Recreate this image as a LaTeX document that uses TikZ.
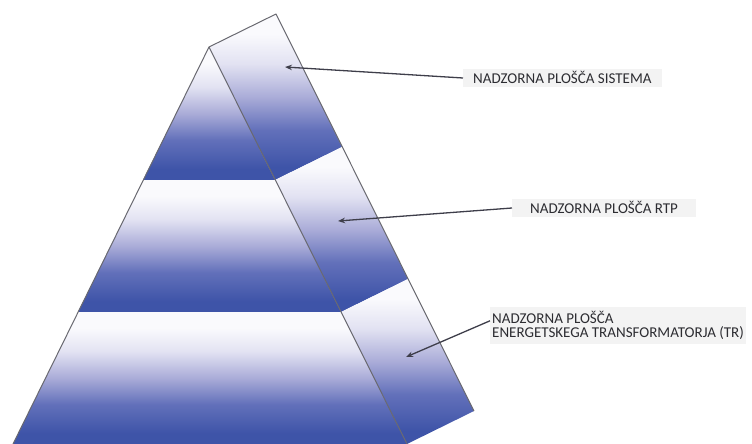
\documentclass[tikz,border=0pt]{standalone}
\usepackage{fontspec}
\setmainfont{Carlito}
\usetikzlibrary{arrows.meta,calc}
\definecolor{bandblue}{RGB}{62,84,168}
\definecolor{bandmid}{RGB}{98,112,186}
\definecolor{bandlav}{RGB}{170,172,216}
\definecolor{bandlight}{RGB}{226,226,242}
\definecolor{bandtop}{RGB}{250,250,253}
\definecolor{edgegray}{RGB}{105,105,112}
\definecolor{arrowgray}{RGB}{62,62,74}
\definecolor{txtgray}{RGB}{45,45,50}
\definecolor{shadowgray}{RGB}{243,243,243}
\pgfdeclareverticalshading{band}{100bp}{color(0bp)=(bandblue); color(29bp)=(bandblue); color(40bp)=(bandmid); color(50bp)=(bandlav); color(60bp)=(bandlight); color(69bp)=(bandtop); color(100bp)=(bandtop)}
\tikzset{
  bandfill/.style={shading=band},
  edgeline/.style={draw=edgegray, line width=1pt, line join=round},
  pointer/.style={draw=arrowgray, line width=1.3pt, -{Stealth[length=7pt,width=5.5pt]}},
  lbl/.style={anchor=west, fill=shadowgray, text=txtgray, font=\fontsize{15}{14.5}\selectfont, text height=10.5pt, text depth=0pt, inner ysep=4pt, align=left},
  lbltwo/.style={anchor=north west, fill=shadowgray, text=txtgray, font=\fontsize{15}{14.5}\selectfont, inner ysep=4pt, align=left}
}
\begin{document}
\begin{tikzpicture}[x=1pt,y=-1pt]
\useasboundingbox (0,0) rectangle (752,444);
% corners of the pyramid
\coordinate (A) at (209,47);
\coordinate (B) at (276,14);
\coordinate (F1L) at (143,180);
\coordinate (F1R) at (275,180);
\coordinate (F2L) at (78,312);
\coordinate (F2R) at (341,312);
\coordinate (F3L) at (13,444);
\coordinate (F3R) at (407,444);
\coordinate (S1) at (342,147);
\coordinate (S2) at (408,279);
\coordinate (S3) at (474,411);
% front bands
\shade[bandfill] (A) -- (F1R) -- (F1L) -- cycle;
\shade[bandfill] (F1L) -- (F1R) -- (F2R) -- (F2L) -- cycle;
\shade[bandfill] (F2L) -- (F2R) -- (F3R) -- (F3L) -- cycle;
% side bands
\shade[bandfill] (A) -- (B) -- (S1) -- (F1R) -- cycle;
\shade[bandfill] (F1R) -- (S1) -- (S2) -- (F2R) -- cycle;
\shade[bandfill] (F2R) -- (S2) -- (S3) -- (F3R) -- cycle;
% outlines
\draw[edgeline] (F3L) -- (A) -- (B) -- (S3);
\draw[edgeline] (A) -- (F3R);
% labels
\node[lbl, inner xsep=10pt] (l1) at (463,78) {NADZORNA PLOŠČA SISTEMA};
\node[lbl, inner xsep=18pt] (l2) at (512,208) {NADZORNA PLOŠČA RTP};
\node[lbltwo, inner xsep=2pt] (l3) at (490,307) {NADZORNA PLOŠČA\\ENERGETSKEGA TRANSFORMATORJA (TR)};
% arrow tips
\coordinate (t1) at (285,67);
\coordinate (t2) at (338,221);
\coordinate (t3) at (406,357);
\draw[pointer] (l1.west) -- (t1);
\draw[pointer] (l2.west) -- (t2);
\draw[pointer] ($(l3.north west)!0.37!(l3.south west)$) -- (t3);
\end{tikzpicture}
\end{document}
